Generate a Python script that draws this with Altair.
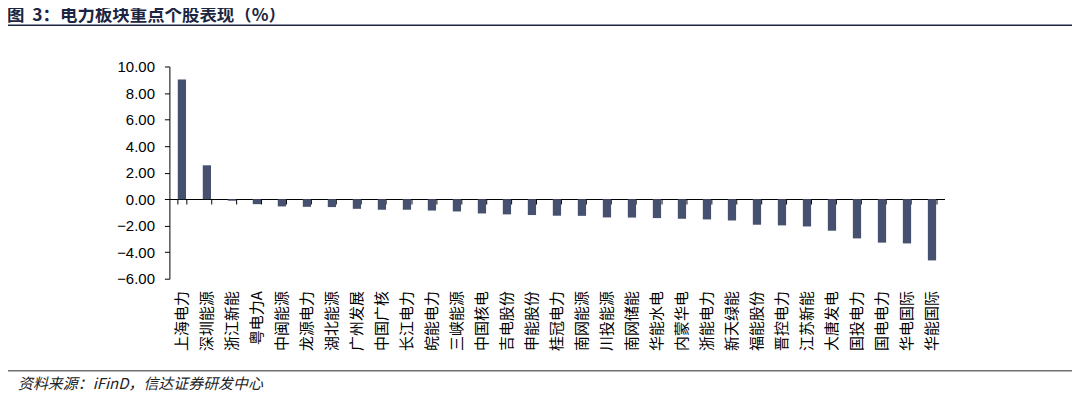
import altair as alt
import pandas as pd

stocks = ["上海电力", "深圳能源", "浙江新能", "粤电力A", "中闽能源", "龙源电力", "湖北能源",
          "广州发展", "中国广核", "长江电力", "皖能电力", "三峡能源", "中国核电", "吉电股份",
          "申能股份", "桂冠电力", "南网能源", "川投能源", "南网储能", "华能水电", "内蒙华电",
          "浙能电力", "新天绿能", "福能股份", "晋控电力", "江苏新能", "大唐发电", "国投电力",
          "国电电力", "华电国际", "华能国际"]
returns = [9.02, 2.55, -0.12, -0.38, -0.55, -0.58, -0.60,
           -0.73, -0.80, -0.80, -0.86, -0.93, -1.08, -1.15,
           -1.20, -1.25, -1.26, -1.38, -1.39, -1.43, -1.48,
           -1.53, -1.61, -1.93, -1.98, -2.06, -2.38, -2.96,
           -3.28, -3.34, -4.62]
y_ticks = [-6, -4, -2, 0, 2, 4, 6, 8, 10]

title_text = "图\u00a0\u00a03：电力板块重点个股表现（%）"
source_text = "资料来源：iFinD，信达证券研发中心"

df = pd.DataFrame({"stock": stocks, "ret": returns})

W, H = 778, 213

bars = alt.Chart(df).mark_bar(color="#46506F").encode(
    x=alt.X("stock:N", sort=stocks, title=None,
            scale=alt.Scale(paddingInner=0.67, paddingOuter=0.335),
            axis=alt.Axis(orient="bottom", offset=-80, domain=True, domainColor="#000000",
                          domainWidth=1, ticks=True, tickBand="extent", tickSize=5,
                          tickColor="#000000", tickWidth=1, labelAngle=270,
                          labelPadding=87, labelFont="Noto Sans CJK SC", labelFontSize=15,
                          labelColor="#000000", labelOverlap=False, labelBound=False,
                          grid=False)),
    y=alt.Y("ret:Q", title=None,
            scale=alt.Scale(domain=[-6, 10], nice=False, zero=False),
            axis=alt.Axis(values=y_ticks, format=".2f", domain=True, domainColor="#000000",
                          domainWidth=1, ticks=True, tickSize=5, tickColor="#000000",
                          labelPadding=10, labelFont="Liberation Sans", labelFontSize=15,
                          labelColor="#000000", grid=False)),
)

one = alt.Data(values=[{"a": 1}])

title_mark = alt.Chart(one).mark_text(
    align="left", baseline="middle", font="Noto Sans CJK SC", fontSize=17.5,
    fontWeight="bold", color="#1C2541"
).encode(x=alt.value(-163), y=alt.value(-50.5), text=alt.value(title_text))

title_rule = alt.Chart(one).mark_rule(color="#1C2541", strokeWidth=1.5).encode(
    x=alt.value(-162), x2=alt.value(906), y=alt.value(-41.5))

foot_rule = alt.Chart(one).mark_rule(color="#707070", strokeWidth=1.5).encode(
    x=alt.value(-162), x2=alt.value(906), y=alt.value(305.5))

foot_mark = alt.Chart(one).mark_text(
    align="left", baseline="middle", font="Noto Sans CJK SC", fontSize=15,
    fontStyle="italic", color="#222222"
).encode(x=alt.value(-152), y=alt.value(319), text=alt.value(source_text))

chart = alt.layer(bars, title_rule, title_mark, foot_rule, foot_mark).properties(
    width=W, height=H,
    autosize=alt.AutoSizeParams(type="none"),
    padding={"left": 162, "top": 58, "right": 130, "bottom": 113},
).configure_view(stroke=None)

chart.save("out.html", embed_options={"renderer": "svg", "actions": False})
